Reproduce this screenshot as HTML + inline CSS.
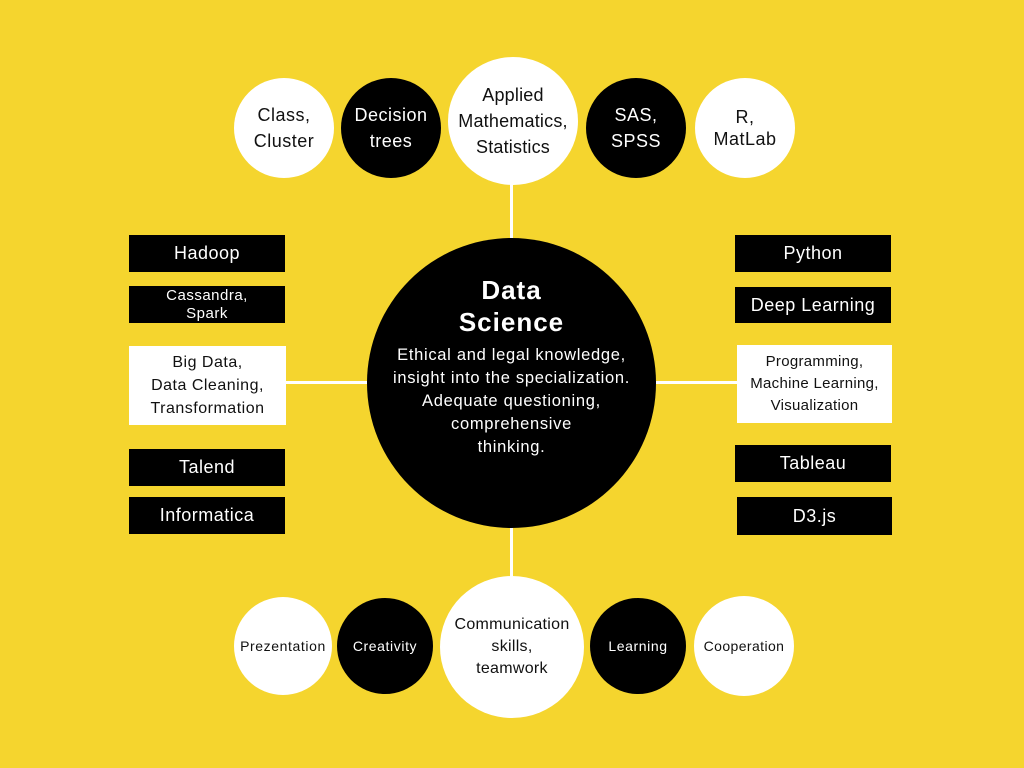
<!DOCTYPE html>
<html><head><meta charset="utf-8"><style>
body{margin:0;width:1024px;height:768px;background:#F5D52E;position:relative;overflow:hidden;font-family:"Liberation Sans",sans-serif;letter-spacing:0.5px}
.c,.b{position:absolute;display:flex;align-items:center;justify-content:center;text-align:center;box-sizing:border-box;white-space:nowrap}
.c{border-radius:50%}
.w{background:#fff;color:#111}
.k{background:#000;color:#fff}
.l{position:absolute;background:#fff}
</style></head><body>
<div class="l" style="left:510px;top:180px;width:3px;height:70px"></div>
<div class="l" style="left:510px;top:520px;width:3px;height:60px"></div>
<div class="l" style="left:285px;top:381px;width:90px;height:3px"></div>
<div class="l" style="left:650px;top:381px;width:90px;height:3px"></div>

<div class="c w" style="left:234px;top:78px;width:100px;height:100px;font-size:18px;line-height:26px">Class,<br>Cluster</div>
<div class="c k" style="left:341px;top:78px;width:100px;height:100px;font-size:18px;line-height:26px">Decision<br>trees</div>
<div class="c w" style="left:448px;top:57px;width:130px;height:128px;font-size:18px;line-height:26px;letter-spacing:0.2px">Applied<br>Mathematics,<br>Statistics</div>
<div class="c k" style="left:586px;top:78px;width:100px;height:100px;font-size:18px;line-height:26px">SAS,<br>SPSS</div>
<div class="c w" style="left:695px;top:78px;width:100px;height:100px;font-size:18px;line-height:22px">R,<br>MatLab</div>

<div class="b k" style="left:129px;top:235px;width:156px;height:37px;font-size:18px">Hadoop</div>
<div class="b k" style="left:129px;top:286px;width:156px;height:37px;font-size:15px;line-height:18px">Cassandra,<br>Spark</div>
<div class="b w" style="left:129px;top:346px;width:157px;height:79px;font-size:16px;line-height:23px">Big Data,<br>Data Cleaning,<br>Transformation</div>
<div class="b k" style="left:129px;top:449px;width:156px;height:37px;font-size:18px">Talend</div>
<div class="b k" style="left:129px;top:497px;width:156px;height:37px;font-size:18px">Informatica</div>

<div class="b k" style="left:735px;top:235px;width:156px;height:37px;font-size:18px">Python</div>
<div class="b k" style="left:735px;top:287px;width:156px;height:36px;font-size:18px">Deep Learning</div>
<div class="b w" style="left:737px;top:345px;width:155px;height:78px;font-size:15px;line-height:22px;letter-spacing:0.3px">Programming,<br>Machine Learning,<br>Visualization</div>
<div class="b k" style="left:735px;top:445px;width:156px;height:37px;font-size:18px">Tableau</div>
<div class="b k" style="left:737px;top:497px;width:155px;height:38px;font-size:18px">D3.js</div>

<div class="c k" style="left:367px;top:238px;width:289px;height:290px;flex-direction:column;justify-content:flex-start;padding-top:36px">
<div style="font-size:26px;line-height:32px;font-weight:bold;letter-spacing:1px">Data<br>Science</div>
<div style="font-size:16.5px;line-height:23px;margin-top:6px;letter-spacing:0.7px">Ethical and legal knowledge,<br>insight into the specialization.<br>Adequate questioning,<br>comprehensive<br>thinking.</div>
</div>

<div class="c w" style="left:234px;top:597px;width:98px;height:98px;font-size:14px;letter-spacing:0.6px">Prezentation</div>
<div class="c k" style="left:337px;top:598px;width:96px;height:96px;font-size:14px;letter-spacing:0.6px">Creativity</div>
<div class="c w" style="left:440px;top:576px;width:144px;height:142px;font-size:16px;line-height:22px;letter-spacing:0.3px">Communication<br>skills,<br>teamwork</div>
<div class="c k" style="left:590px;top:598px;width:96px;height:96px;font-size:14px;letter-spacing:0.6px">Learning</div>
<div class="c w" style="left:694px;top:596px;width:100px;height:100px;font-size:14px;letter-spacing:0.4px">Cooperation</div>
</body></html>
